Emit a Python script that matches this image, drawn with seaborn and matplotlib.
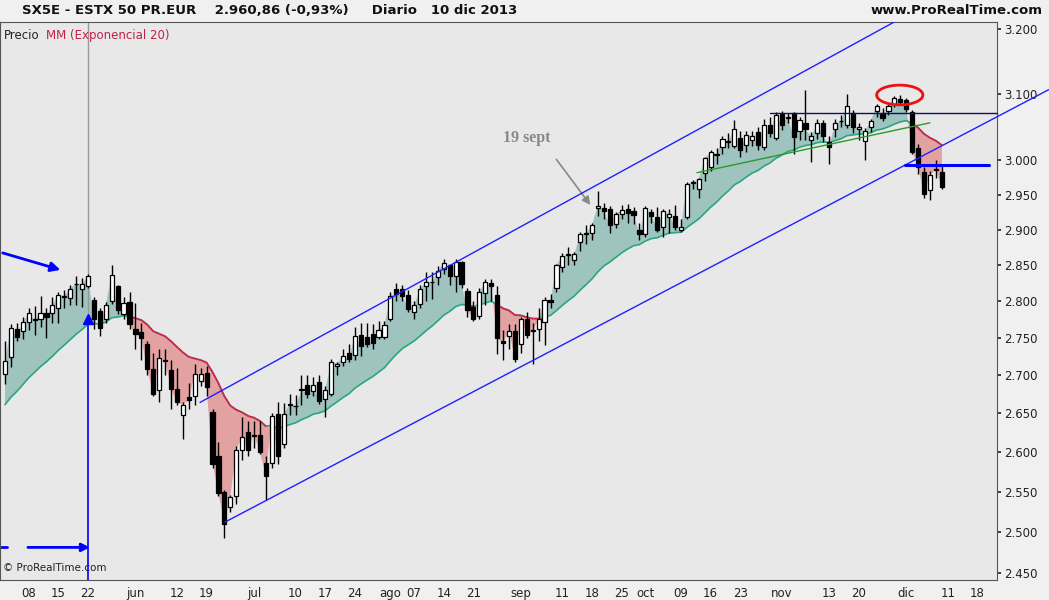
import numpy as np
import pandas as pd
import matplotlib
matplotlib.use("Agg")
import matplotlib.pyplot as plt
from matplotlib.patches import Ellipse
from matplotlib.ticker import FixedLocator, NullLocator
import seaborn as sns

# ---------------- data (O, H, L, C) ----------------
opens = [2.701,2.724,2.762,2.759,2.771,2.774,2.776,2.784,2.783,2.791,2.806,2.804,2.823,2.817,2.821,2.801,2.786,2.775,2.800,2.820,2.782,2.799,
 2.762,2.758,2.741,2.708,2.680,2.720,2.707,2.682,2.647,2.671,2.673,2.692,2.703,2.651,2.595,2.549,2.531,2.545,2.602,2.625,
 2.620,2.622,2.586,2.586,2.649,2.610,2.660,2.659,2.682,2.687,2.679,2.691,2.668,2.675,2.712,2.718,2.729,2.727,2.754,2.751,2.755,2.751,2.751,
 2.775,2.816,2.816,2.808,2.785,2.796,2.821,2.826,2.833,2.844,2.850,2.835,2.854,2.814,2.792,2.780,2.811,2.825,2.808,2.745,2.752,2.759,
 2.742,2.775,2.759,2.762,2.771,2.801,2.818,2.847,2.864,2.857,2.882,2.894,2.895,2.931,2.931,2.929,2.908,2.922,2.929,2.926,2.900,
 2.894,2.925,2.918,2.903,2.918,2.920,2.899,2.918,2.967,2.958,2.981,2.991,3.008,3.020,3.028,3.022,3.034,3.023,3.030,3.042,3.020,3.052,3.034,
 3.069,3.063,3.070,3.044,3.055,3.030,3.040,3.055,3.028,3.046,3.058,3.053,3.070,3.046,3.029,3.050,3.074,3.070,3.073,3.084,3.092,
 3.090,3.072,3.018,2.983,2.957,2.988,2.983]
highs = [2.746,2.768,2.770,2.778,2.790,2.793,2.807,2.790,2.805,2.812,2.815,2.822,2.835,2.832,2.838,2.806,2.790,2.798,2.850,2.822,2.805,2.812,
 2.797,2.770,2.745,2.730,2.735,2.735,2.720,2.710,2.664,2.690,2.715,2.710,2.712,2.655,2.613,2.552,2.546,2.608,2.645,2.640,
 2.640,2.640,2.595,2.650,2.665,2.663,2.675,2.674,2.700,2.700,2.698,2.700,2.685,2.722,2.718,2.735,2.742,2.765,2.770,2.770,2.768,2.772,2.772,
 2.812,2.825,2.822,2.815,2.800,2.822,2.840,2.840,2.848,2.858,2.852,2.858,2.856,2.818,2.800,2.818,2.830,2.830,2.820,2.760,2.768,2.768,
 2.778,2.785,2.770,2.790,2.805,2.810,2.852,2.867,2.875,2.868,2.897,2.906,2.910,2.955,2.938,2.933,2.925,2.935,2.937,2.932,2.910,
 2.934,2.930,2.932,2.930,2.930,2.935,2.915,2.968,2.972,2.975,3.005,3.015,3.018,3.036,3.040,3.060,3.044,3.044,3.044,3.050,3.062,3.065,3.072,
 3.073,3.070,3.072,3.065,3.106,3.042,3.062,3.060,3.036,3.062,3.068,3.100,3.075,3.055,3.048,3.062,3.085,3.078,3.085,3.097,3.098,
 3.094,3.075,3.025,2.990,2.985,3.000,2.995]
lows = [2.688,2.711,2.745,2.748,2.760,2.753,2.765,2.750,2.770,2.770,2.790,2.795,2.795,2.792,2.818,2.762,2.752,2.770,2.796,2.782,2.776,2.762,
 2.735,2.720,2.700,2.672,2.665,2.700,2.655,2.660,2.617,2.655,2.660,2.685,2.672,2.580,2.545,2.492,2.525,2.535,2.590,2.595,
 2.605,2.598,2.540,2.580,2.585,2.605,2.648,2.648,2.660,2.670,2.672,2.662,2.645,2.672,2.700,2.712,2.718,2.720,2.725,2.738,2.735,2.748,2.748,
 2.772,2.800,2.800,2.785,2.775,2.790,2.800,2.803,2.822,2.838,2.822,2.812,2.818,2.778,2.772,2.776,2.795,2.800,2.728,2.720,2.735,2.718,
 2.730,2.750,2.715,2.745,2.740,2.790,2.812,2.840,2.850,2.850,2.870,2.880,2.885,2.920,2.915,2.895,2.902,2.915,2.910,2.908,2.885,
 2.890,2.910,2.897,2.890,2.895,2.900,2.896,2.915,2.958,2.945,2.970,2.985,2.995,3.010,3.018,3.018,3.005,3.012,3.022,3.015,3.015,3.035,3.030,
 3.045,3.055,3.010,3.030,3.030,2.998,3.032,3.028,2.995,3.035,3.050,3.048,3.040,3.030,3.000,3.042,3.065,3.058,3.068,3.080,3.083,
 3.072,3.010,2.980,2.945,2.942,2.975,2.958]
closes = [2.719,2.763,2.751,2.771,2.783,2.774,2.784,2.778,2.795,2.808,2.807,2.817,2.824,2.823,2.835,2.776,2.763,2.795,2.836,2.787,2.797,2.768,
 2.755,2.749,2.708,2.675,2.723,2.719,2.682,2.664,2.661,2.667,2.701,2.701,2.684,2.585,2.548,2.510,2.543,2.603,2.619,2.602,
 2.622,2.600,2.569,2.646,2.595,2.649,2.662,2.659,2.680,2.675,2.687,2.666,2.680,2.718,2.715,2.725,2.722,2.752,2.739,2.742,2.743,2.760,2.767,
 2.807,2.810,2.807,2.789,2.795,2.816,2.826,2.826,2.842,2.853,2.835,2.854,2.823,2.787,2.775,2.812,2.826,2.821,2.749,2.743,2.759,2.722,
 2.775,2.754,2.759,2.775,2.801,2.799,2.850,2.862,2.864,2.865,2.893,2.894,2.907,2.934,2.926,2.906,2.922,2.928,2.924,2.921,2.894,
 2.931,2.920,2.900,2.926,2.922,2.903,2.903,2.966,2.967,2.973,3.003,3.012,3.008,3.032,3.028,3.046,3.016,3.037,3.036,3.023,3.052,3.040,3.068,
 3.052,3.065,3.035,3.060,3.046,3.036,3.055,3.036,3.020,3.055,3.058,3.081,3.049,3.049,3.043,3.058,3.082,3.063,3.081,3.093,3.088,
 3.077,3.013,2.990,2.951,2.979,2.986,2.961]
start_date = "2013-05-02"
ema_seed = 2.655
tick_dates = ["2013-05-08","2013-05-15","2013-05-22","2013-06-03","2013-06-12","2013-06-19","2013-07-01","2013-07-10",
 "2013-07-17","2013-07-24","2013-08-01","2013-08-07","2013-08-14","2013-08-21","2013-09-02","2013-09-11","2013-09-18",
 "2013-09-25","2013-10-01","2013-10-09","2013-10-16","2013-10-23","2013-11-01","2013-11-13","2013-11-20","2013-12-02",
 "2013-12-11","2013-12-18"]
tick_labels = ["08","15","22","jun","12","19","jul","10","17","24","ago","07","14","21","sep","11","18","25","oct","09",
 "16","23","nov","13","20","dic","11","18"]
y_ticks = [3.200,3.100,3.000,2.950,2.900,2.850,2.800,2.750,2.700,2.650,2.600,2.550,2.500,2.450]

# ---------------- figure ----------------
sns.set_theme(style="white")
plt.rcParams['font.family'] = ['DejaVu Sans']
n = len(closes)
dates = pd.bdate_range(start_date, periods=n + 20)
idx = np.arange(n)
o, h, l, c = map(np.array, (opens, highs, lows, closes))

ema = np.empty(n)
prev = ema_seed
k = 2 / 21
for i in range(n):
    prev = prev + k * (c[i] - prev)
    ema[i] = prev

fig = plt.figure(figsize=(10.49, 6.0), dpi=100)
fig.patch.set_facecolor("#f0f0f0")
ax = fig.add_axes([0.0, 20/600, 997/1049, 558/600])
ax.set_facecolor("#e8e8e8")
ax.set_yscale("log")
ax.set_xlim(-0.84, 167.3)
ax.set_ylim(2.4416, 3.211)

up = c >= ema
ax.fill_between(idx, c, ema, where=up, interpolate=True, color="#9fc3bf", lw=0)
ax.fill_between(idx, c, ema, where=~up, interpolate=True, color="#e2a2a2", lw=0)
er = np.where(~up, ema, np.nan)
sns.lineplot(x=idx, y=ema, ax=ax, color="#2aa67f", lw=1.2)
ax.plot(idx, er, color="#d8204a", lw=1.2)

# candles
ax.vlines(idx, l, h, color="black", lw=1.0, zorder=3)
body_lo = np.minimum(o, c)
body_h = np.maximum(np.abs(c - o), 0.0008)
cols = np.where(c >= o, "white", "black")
ax.bar(idx, body_h, bottom=body_lo, width=0.7, color=cols, edgecolor="black", lw=0.9, zorder=4)

# trend lines
def seg(x0, y0, x1, y1, **kw):
    ax.plot([x0, x1], [y0, y1], clip_on=False, **kw)
up_line = (32.9, 2.664, 142.5, 3.173)
lo_line = (37.1, 2.512, 176.0, 3.106)
slope_u = (np.log(up_line[3]) - np.log(up_line[1])) / (up_line[2] - up_line[0])
ax.plot([up_line[0], 160], [up_line[1], np.exp(np.log(up_line[1]) + slope_u * (160 - up_line[0]))],
        color="#2020ff", lw=1.0, zorder=5)
seg(*lo_line, color="#2020ff", lw=1.0, zorder=5)
seg(116.7, 2.982, 156.0, 3.056, color="#2a9a2a", lw=1.0, zorder=5)
seg(129.0, 3.071, 167.3, 3.071, color="#101060", lw=1.0, zorder=5)
seg(151.8, 2.993, 165.9, 2.993, color="#0000ff", lw=2.2, zorder=5)

# vertical marker at May 22
ax.plot([14, 14], [2.780, 3.211], color="#999999", lw=1.0, zorder=2)
ax.plot([14, 14], [2.4416, 2.780], color="#0000ff", lw=1.2, zorder=6)
ax.plot([14], [2.776], marker="^", color="#0000ff", ms=7, zorder=6)

# arrows
ax.annotate("", xy=(9.8, 2.842), xytext=(-0.84, 2.868),
            arrowprops=dict(arrowstyle="-|>", color="#0000ff", lw=2, mutation_scale=14))
ax.annotate("", xy=(14.8, 2.481), xytext=(3.4, 2.481),
            arrowprops=dict(arrowstyle="-|>", color="#0000ff", lw=2, mutation_scale=12))
ax.plot([-0.6, 0.4], [2.481, 2.481], color="#0000ff", lw=2)

# ellipse
ax.add_patch(Ellipse((150.9, 3.098), 7.8, 0.030, fill=False, edgecolor="#ee1111", lw=2, zorder=7))

# 19 sept annotation
ax.text(88, 3.034, "19 sept", color="#888888", fontsize=11.5, fontweight="bold",
        family="Liberation Serif", ha="center", va="center")
ax.annotate("", xy=(99.0, 2.932), xytext=(92.7, 3.005),
            arrowprops=dict(arrowstyle="-|>", color="#888888", lw=1.2, mutation_scale=12))

# axes
pos = [dates.get_loc(pd.Timestamp(d)) for d in tick_dates]
ax.xaxis.set_major_locator(FixedLocator(pos))
ax.set_xticklabels(tick_labels, fontsize=8.5, color="#222222")
ax.xaxis.set_minor_locator(NullLocator())
ax.yaxis.tick_right()
ax.yaxis.set_major_locator(FixedLocator(y_ticks))
ax.yaxis.set_minor_locator(NullLocator())
ax.set_yticklabels([f"{v:.3f}" for v in y_ticks], fontsize=8.5, color="#222222")
ax.tick_params(axis="both", length=3, direction="out", pad=2)
ax.set_xlabel(""); ax.set_ylabel("")
for s in ax.spines.values():
    s.set_color("#555555"); s.set_linewidth(0.8)

ax.text(0.004, 0.988, "Precio", transform=ax.transAxes, fontsize=8.5, va="top", color="#222222")
ax.text(0.046, 0.988, "MM (Exponencial 20)", transform=ax.transAxes, fontsize=8.5, va="top", color="#c0204a")
ax.text(0.003, 0.012, "© ProRealTime.com", transform=ax.transAxes, fontsize=7.5, va="bottom", color="#222222")

fig.text(22/1049, 1 - 11/600, "SX5E - ESTX 50 PR.EUR    2.960,86 (-0,93%)     Diario   10 dic 2013",
         fontsize=9.5, fontweight="bold", va="center", color="#111111")
fig.text(1 - 6/1049, 1 - 11/600, "www.ProRealTime.com", fontsize=9.5, fontweight="bold", va="center", ha="right", color="#111111")

fig.savefig("out.png", dpi=100)
